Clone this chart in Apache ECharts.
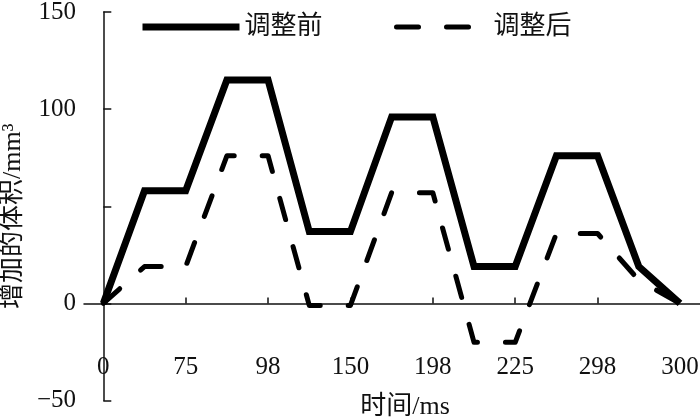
<!DOCTYPE html>
<html>
<head>
<meta charset="utf-8">
<script src="https://cdn.jsdelivr.net/npm/echarts@6/dist/echarts.min.js"></script>
<style>
  html, body { margin: 0; padding: 0; background: #fff; }
  #chart { width: 700px; height: 420px; }
</style>
</head>
<body>
<div id="chart"></div>
<script>
// 横轴标签（每隔一个点标一个）
const xLabels = ['0', '75', '98', '150', '198', '225', '298', '300']
const labelIdx = [0, 2, 4, 6, 8, 10, 12, 14]
const tickIdx = [2, 4, 6, 8, 10, 12]

// 增加的体积，按点序号 0..14
const before = [0, 58, 58, 115, 115, 37, 37, 96, 96, 19, 19, 76, 76, 19, 0]
const after = [0, 19, 19, 76, 76, -1, -1, 57, 57, -20, -20, 36, 36, 12, 0]

const yTicks = [-50, 0, 50, 100, 150]

const font = '"Liberation Serif", "Noto Sans CJK SC", serif'
const ink = '#111'
const dash = [22, 28]

const chart = echarts.init(document.getElementById('chart'), null, { renderer: 'canvas' })

chart.setOption({
  animation: false,
  backgroundColor: '#fff',
  textStyle: { fontFamily: font, color: ink },
  legend: [{
    data: ['调整前'],
    left: 139,
    top: 14,
    padding: 0,
    itemWidth: 97,
    itemHeight: 26,
    itemStyle: { opacity: 0 },
    lineStyle: { width: 7, color: '#000' },
    textStyle: { fontSize: 26, color: ink, fontFamily: font }
  }, {
    data: ['调整后'],
    left: 394,
    top: 14,
    padding: 0,
    itemWidth: 92,
    itemHeight: 26,
    itemStyle: { opacity: 0 },
    lineStyle: { width: 5, color: '#000', type: dash, cap: 'round' },
    textStyle: { fontSize: 26, color: ink, fontFamily: font }
  }],
  grid: {
    left: 84,
    right: 0,
    top: 12,
    bottom: 19.4,
    outerBoundsMode: 'none'
  },
  xAxis: {
    type: 'value',
    min: -0.4686,
    max: 14.486,
    name: '时间/ms',
    nameLocation: 'middle',
    nameGap: -6,
    nameTextStyle: { fontSize: 26, color: ink, fontFamily: font, padding: [0, 0, 0, 26] },
    axisLine: { onZero: true, lineStyle: { color: ink, width: 1.5 } },
    axisTick: {
      inside: true,
      length: 6,
      customValues: tickIdx,
      lineStyle: { color: ink, width: 1.5 }
    },
    axisLabel: {
      customValues: labelIdx,
      margin: -46,
      fontSize: 25,
      color: ink,
      fontFamily: font,
      formatter: function (v) {
        const k = labelIdx.indexOf(v)
        return k >= 0 ? xLabels[k] : ''
      }
    },
    splitLine: { show: false }
  },
  yAxis: {
    type: 'value',
    min: yTicks[0],
    max: yTicks[yTicks.length - 1],
    interval: 50,
    name: '增加的体积/mm³',
    nameLocation: 'middle',
    nameGap: 57,
    nameTextStyle: { fontSize: 26, color: ink, fontFamily: font, padding: [0, 20, 0, 0] },
    axisLine: { show: true, lineStyle: { color: ink, width: 1.5 } },
    axisTick: { show: true, inside: true, length: 8, lineStyle: { color: ink, width: 1.5 } },
    axisLabel: {
      margin: 8,
      fontSize: 25,
      color: ink,
      fontFamily: font,
      formatter: function (v) {
        if (v === 50) return ''
        return v < 0 ? '\u2212' + Math.abs(v) : String(v)
      }
    },
    splitLine: { show: false }
  },
  series: [{
    name: '调整前',
    type: 'line',
    data: before.map((v, i) => [i, v]),
    symbol: 'none',
    z: 3,
    lineStyle: { color: '#000', width: 7, join: 'miter', cap: 'butt' },
    itemStyle: { color: '#000' }
  }, {
    name: '调整后',
    type: 'line',
    data: after.map((v, i) => [i, v]),
    symbol: 'none',
    z: 2,
    lineStyle: { color: '#000', width: 5, type: dash, cap: 'round', join: 'round' },
    itemStyle: { color: '#000' }
  }]
})
</script>
</body>
</html>
